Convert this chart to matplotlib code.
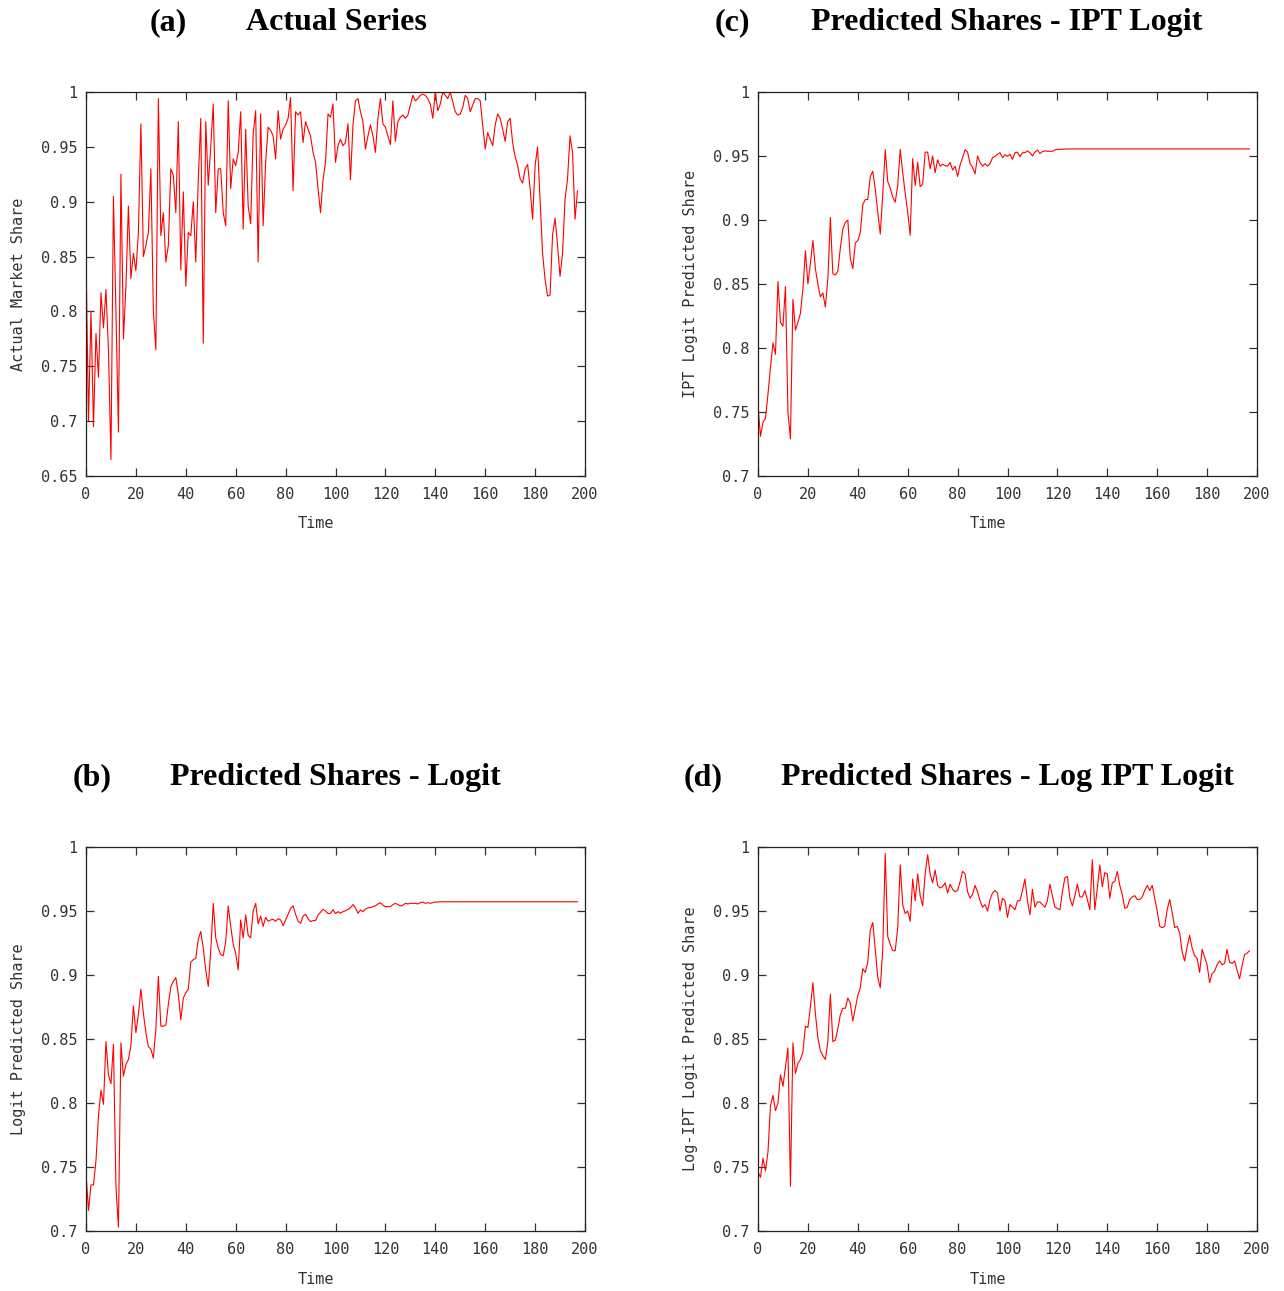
import numpy as np
import matplotlib
matplotlib.use("Agg")
import matplotlib.pyplot as plt
from matplotlib.ticker import FormatStrFormatter

# Valores (t = 0, 1, 2, ...)
actual_share = [
    0.85, 0.70, 0.80, 0.695, 0.78, 0.74, 0.817, 0.785, 0.82, 0.765,
    0.665, 0.905, 0.80, 0.69, 0.925, 0.775, 0.823, 0.896, 0.83, 0.853,
    0.837, 0.872, 0.971, 0.85, 0.86, 0.872, 0.93, 0.80, 0.765, 0.994,
    0.869, 0.89, 0.845, 0.86, 0.93, 0.924, 0.89, 0.973, 0.838, 0.909,
    0.823, 0.872, 0.869, 0.90, 0.845, 0.92, 0.976, 0.771, 0.973, 0.915,
    0.95, 0.989, 0.89, 0.93, 0.93, 0.89, 0.878, 0.992, 0.912, 0.939,
    0.933, 0.945, 0.982, 0.875, 0.966, 0.896, 0.88, 0.962, 0.983, 0.845,
    0.98, 0.878, 0.936, 0.968, 0.965, 0.96, 0.939, 0.983, 0.957, 0.966,
    0.97, 0.976, 0.995, 0.91, 0.982, 0.979, 0.982, 0.954, 0.973, 0.966,
    0.96, 0.945, 0.936, 0.912, 0.89, 0.92, 0.936, 0.98, 0.977, 0.989,
    0.936, 0.951, 0.957, 0.951, 0.954, 0.971, 0.92, 0.97, 0.992, 0.994,
    0.982, 0.973, 0.948, 0.96, 0.97, 0.96, 0.945, 0.976, 0.994, 0.971,
    0.968, 0.96, 0.952, 0.992, 0.955, 0.973, 0.977, 0.979, 0.976, 0.979,
    0.988, 0.997, 0.992, 0.994, 0.997, 0.998, 0.997, 0.994, 0.989, 0.976,
    1.0, 0.983, 0.989, 1.0, 0.997, 0.994, 1.0, 0.991, 0.982, 0.979,
    0.98, 0.986, 0.997, 0.994, 0.982, 0.988, 0.994, 0.994, 0.992, 0.97,
    0.948, 0.963, 0.957, 0.951, 0.97, 0.98, 0.976, 0.966, 0.955, 0.973,
    0.976, 0.954, 0.941, 0.933, 0.921, 0.917, 0.93, 0.934, 0.912, 0.884,
    0.933, 0.95, 0.902, 0.853, 0.829, 0.814, 0.815, 0.87, 0.885, 0.86,
    0.832, 0.853, 0.902, 0.921, 0.96, 0.945, 0.884, 0.91,
]

logit_share = [
    0.745, 0.716, 0.736, 0.736, 0.755, 0.79, 0.81, 0.799, 0.848, 0.822,
    0.815, 0.846, 0.735, 0.703, 0.847, 0.821, 0.83, 0.834, 0.845, 0.876,
    0.855, 0.869, 0.889, 0.87, 0.855, 0.844, 0.842, 0.835, 0.858, 0.899,
    0.86, 0.86, 0.861, 0.877, 0.891, 0.895, 0.898, 0.885, 0.865, 0.882,
    0.886, 0.889, 0.91, 0.912, 0.913, 0.928, 0.934, 0.921, 0.904, 0.891,
    0.919, 0.956, 0.929, 0.921, 0.916, 0.915, 0.926, 0.954, 0.938, 0.924,
    0.917, 0.904, 0.943, 0.929, 0.947, 0.931, 0.929, 0.95, 0.956, 0.94,
    0.946, 0.938, 0.945, 0.942, 0.943, 0.9435, 0.942, 0.944, 0.943, 0.9385,
    0.943, 0.9474, 0.952, 0.954, 0.9474, 0.942, 0.9404, 0.946, 0.9474, 0.944,
    0.9417, 0.9425, 0.9425, 0.9468, 0.949, 0.9513, 0.950, 0.948, 0.9482, 0.951,
    0.948, 0.9495, 0.9482, 0.9495, 0.9502, 0.9513, 0.9525, 0.955, 0.9526, 0.9482,
    0.9508, 0.9495, 0.9515, 0.9525, 0.9526, 0.9534, 0.954, 0.9555, 0.9565, 0.9545,
    0.9534, 0.9534, 0.9534, 0.955, 0.956, 0.955, 0.9539, 0.9545, 0.956, 0.9555,
    0.956, 0.956, 0.956, 0.9555, 0.9565, 0.957, 0.956, 0.9565, 0.956, 0.9565,
    0.957, 0.957, 0.9572,
] + [0.9572] * 55  # tramo plano hasta el final

ipt_share = [
    0.755, 0.731, 0.742, 0.745, 0.764, 0.785, 0.804, 0.795, 0.852, 0.82,
    0.817, 0.848, 0.75, 0.729, 0.838, 0.814, 0.82, 0.827, 0.846, 0.876,
    0.85, 0.866, 0.884, 0.862, 0.85, 0.84, 0.843, 0.832, 0.854, 0.902,
    0.858, 0.857, 0.86, 0.878, 0.893, 0.898, 0.9, 0.87, 0.862, 0.882,
    0.884, 0.89, 0.912, 0.916, 0.916, 0.934, 0.938, 0.924, 0.906, 0.889,
    0.92, 0.955, 0.93, 0.925, 0.918, 0.914, 0.927, 0.955, 0.937, 0.921,
    0.906, 0.888, 0.948, 0.927, 0.945, 0.926, 0.928, 0.953, 0.953, 0.94,
    0.95, 0.937, 0.947, 0.942, 0.9435, 0.9425, 0.942, 0.945, 0.939, 0.942,
    0.934, 0.943, 0.9487, 0.955, 0.953, 0.944, 0.941, 0.936, 0.95, 0.945,
    0.942, 0.944, 0.942, 0.944, 0.9487, 0.9497, 0.9513, 0.9526, 0.9487, 0.951,
    0.9497, 0.9513, 0.9474, 0.9526, 0.953, 0.9495, 0.9526, 0.9526, 0.954, 0.9526,
    0.950, 0.953, 0.9547, 0.952, 0.9534, 0.954, 0.9537, 0.9537, 0.9537, 0.9547,
    0.9552, 0.9552, 0.9553, 0.9554,
] + [0.9555] * 74  # tramo plano hasta el final

log_ipt_share = [
    0.746, 0.742, 0.757, 0.747, 0.762, 0.798, 0.806, 0.794, 0.80, 0.822,
    0.813, 0.828, 0.843, 0.735, 0.847, 0.823, 0.831, 0.834, 0.84, 0.86,
    0.859, 0.875, 0.894, 0.87, 0.851, 0.841, 0.837, 0.834, 0.848, 0.885,
    0.848, 0.849, 0.858, 0.869, 0.874, 0.874, 0.882, 0.878, 0.864, 0.874,
    0.884, 0.89, 0.905, 0.902, 0.91, 0.935, 0.941, 0.92, 0.898, 0.89,
    0.92, 0.995, 0.93, 0.924, 0.919, 0.919, 0.937, 0.986, 0.955, 0.948,
    0.95, 0.942, 0.975, 0.958, 0.979, 0.962, 0.954, 0.979, 0.994, 0.979,
    0.972, 0.982, 0.97, 0.968, 0.969, 0.972, 0.964, 0.971, 0.967, 0.965,
    0.966, 0.973, 0.981, 0.979, 0.965, 0.96, 0.963, 0.97, 0.965, 0.958,
    0.953, 0.955, 0.95, 0.959, 0.964, 0.966, 0.964, 0.95, 0.96, 0.958,
    0.945, 0.955, 0.953, 0.951, 0.958, 0.958, 0.966, 0.975, 0.958, 0.947,
    0.967, 0.953, 0.957, 0.957, 0.955, 0.953, 0.958, 0.971, 0.962, 0.953,
    0.952, 0.951, 0.965, 0.976, 0.977, 0.96, 0.954, 0.962, 0.971, 0.961,
    0.961, 0.966, 0.959, 0.951, 0.99, 0.951, 0.968, 0.986, 0.969, 0.98,
    0.979, 0.96, 0.972, 0.973, 0.981, 0.97, 0.963, 0.952, 0.953, 0.959,
    0.961, 0.962, 0.959, 0.959, 0.961, 0.966, 0.97, 0.966, 0.97, 0.96,
    0.95, 0.938, 0.937, 0.938, 0.951, 0.959, 0.949, 0.937, 0.938, 0.933,
    0.918, 0.911, 0.922, 0.931, 0.921, 0.915, 0.913, 0.902, 0.92, 0.914,
    0.908, 0.894, 0.901, 0.903, 0.908, 0.911, 0.908, 0.909, 0.92, 0.91,
    0.909, 0.911, 0.904, 0.897, 0.907, 0.916, 0.917, 0.919,
]

x_ticks = np.arange(0, 201, 20)

W, H = 1284, 1291
plt.rcParams['font.family'] = ['DejaVu Sans Mono']


def rect_px(left, top, right, bottom):
    # convierte un rectangulo en pixeles (origen arriba) a fraccion de figura
    return [left / W, 1 - bottom / H, (right - left) / W, (bottom - top) / H]


def panel(fig, rect, serie, ymin, ylabel):
    ax = fig.add_axes(rect)
    ax.plot(np.arange(len(serie)), serie, color='red', lw=0.8)
    ax.set_xlim(0, 200)
    ax.set_ylim(ymin, 1)
    ax.set_xticks(x_ticks)
    ax.set_yticks(np.round(np.arange(ymin, 1.0001, 0.05), 2))
    ax.yaxis.set_major_formatter(FormatStrFormatter('%g'))
    ax.tick_params(direction='in', top=True, right=True, length=6, width=0.9,
                   labelsize=11, colors='#333333')
    ax.tick_params(axis='x', pad=8)
    ax.tick_params(axis='y', pad=6)
    for s in ax.spines.values():
        s.set_linewidth(0.9)
        s.set_color('#222222')
    ax.set_xlabel('Time', fontsize=11, va='center', color='#333333')
    ax.xaxis.set_label_coords(0.461, -0.125)
    ax.set_ylabel(ylabel, fontsize=11, va='center', color='#333333')
    ax.yaxis.set_label_coords(-0.136, 0.5)
    return ax


fig = plt.figure(figsize=(W / 100, H / 100), dpi=100)

panel(fig, rect_px(86, 92, 585, 476), actual_share, 0.65, 'Actual Market Share')
panel(fig, rect_px(758, 92, 1257, 476), ipt_share, 0.7, 'IPT Logit Predicted Share')
panel(fig, rect_px(86, 847, 585, 1231), logit_share, 0.7, 'Logit Predicted Share')
panel(fig, rect_px(758, 847, 1257, 1231), log_ipt_share, 0.7, 'Log-IPT Logit Predicted Share')

# Titulos de cada panel
titulos = [
    ('(a)', 168, 'Actual Series', 336, 30),
    ('(c)', 732, 'Predicted Shares - IPT Logit', 1007, 30),
    ('(b)', 92, 'Predicted Shares - Logit', 335, 785),
    ('(d)', 703, 'Predicted Shares - Log IPT Logit', 1007, 785),
]
for tag, xt, texto, xs, yb in titulos:
    for t, xx in ((tag, xt), (texto, xs)):
        fig.text(xx / W, 1 - yb / H, t, ha='center', va='baseline',
                 fontsize=23, fontweight='bold', family='Liberation Serif')

fig.savefig('out.png', dpi=100)
